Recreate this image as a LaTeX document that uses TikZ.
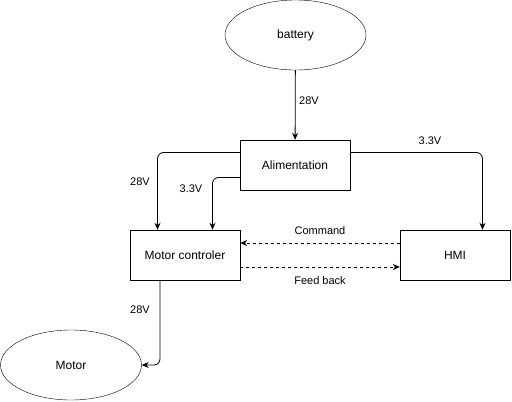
\documentclass[tikz,border=0pt]{standalone}
\usepackage{fontspec}
\setmainfont{Liberation Sans}
\usetikzlibrary{shapes.geometric, arrows.meta, positioning}

\tikzset{
    block/.style={draw, minimum width=110pt, minimum height=50pt, inner sep=0pt, font=\fontsize{12}{14}\selectfont},
    blob/.style={draw, ellipse, minimum width=141pt, minimum height=70pt, inner sep=0pt, font=\fontsize{12}{14}\selectfont},
    wire/.style={-{Stealth[length=7pt, width=6pt]}, line width=0.8pt, rounded corners=6pt},
    signal/.style={wire, dashed, dash pattern=on 3pt off 3pt},
    tag/.style={font=\fontsize{11}{13}\selectfont, inner sep=1pt}
}

\begin{document}
\begin{tikzpicture}[x=1pt, y=-1pt]
        \useasboundingbox (0,0) rectangle (512,402);

        \node[blob]  (bat) at (295.5,35) {battery};
        \node[block] (ali) at (295,165)  {Alimentation};
        \node[block] (mc)  at (185,255)  {Motor controler};
        \node[block] (hmi) at (455,255)  {HMI};
        \node[blob]  (mot) at (71,365)   {Motor};

        \draw[wire] (bat) -- (ali);
        \draw[wire] ([yshift=12.5pt]ali.west) -| ([xshift=-27.5pt]mc.north);
        \draw[wire] ([yshift=-12.5pt]ali.west) -| ([xshift=27.5pt]mc.north);
        \draw[wire] ([yshift=12.5pt]ali.east) -| ([xshift=27.5pt]hmi.north);
        \draw[signal] ([yshift=12pt]hmi.west) -- ([yshift=12pt]mc.east);
        \draw[signal] ([yshift=-12pt]mc.east) -- ([yshift=-12pt]hmi.west);
        \draw[wire] ([xshift=-25pt]mc.south) |- (mot.east);

        % voltages and signals
        \node[tag] (v0) at (309,101) {28V};
        \node[tag] (v1) at (140,182) {28V};
        \node[tag] (v2) at (191,189) {3.3V};
        \node[tag] (v3) at (430,141) {3.3V};
        \node[tag] (v4) at (140,310) {28V};
        \node[tag] (cmd) at (320,231) {Command};
        \node[tag] (fb)  at (320,281) {Feed back};
\end{tikzpicture}
\end{document}
